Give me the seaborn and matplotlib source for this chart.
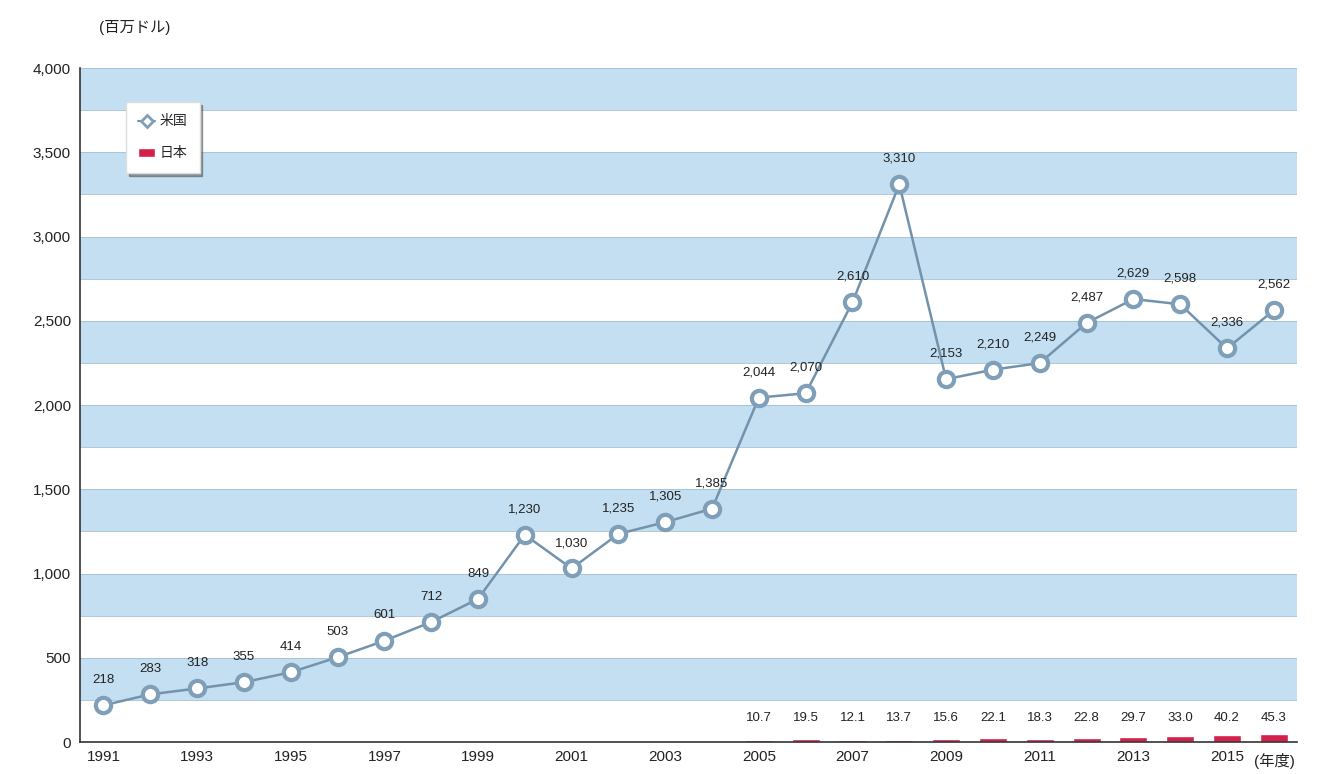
import pandas as pd
import numpy as np
import matplotlib
matplotlib.use("Agg")
import matplotlib.pyplot as plt
import seaborn as sns
from matplotlib.lines import Line2D
from matplotlib.patches import Patch

years = list(range(1991, 2017))
us_values = [218, 283, 318, 355, 414, 503, 601, 712, 849, 1230, 1030, 1235, 1305,
             1385, 2044, 2070, 2610, 3310, 2153, 2210, 2249, 2487, 2629, 2598, 2336, 2562]
jp_years = list(range(2005, 2017))
jp_values = [10.7, 19.5, 12.1, 13.7, 15.6, 22.1, 18.3, 22.8, 29.7, 33.0, 40.2, 45.3]
tick_years = list(range(1991, 2017, 2))

sns.set_style("white")
plt.rcParams['font.family'] = ['Liberation Sans', 'Noto Sans CJK JP', 'DejaVu Sans']

us = pd.DataFrame({"year": years, "value": us_values})
jp = pd.DataFrame({"year": jp_years, "value": jp_values})

fig = plt.figure(figsize=(13.21, 7.74), dpi=100)
ax = fig.add_axes([0.0606, 0.0413, 0.9214, 0.8708])

# striped background
for lo in range(250, 4000, 500):
    ax.axhspan(lo, lo + 250, color="#c3dff1", lw=0, zorder=0)
    ax.axhline(lo, color="#a5bfd2", lw=0.6, zorder=0.5)
    ax.axhline(lo + 250, color="#a5bfd2", lw=0.6, zorder=0.5)

sns.barplot(data=jp, x="year", y="value", native_scale=True, color="#d4204a",
            width=0.6, ax=ax, zorder=2, saturation=1)
sns.lineplot(data=us, x="year", y="value", ax=ax, color="#7392ab", lw=1.8,
             marker="o", markersize=11, markerfacecolor="white",
             markeredgecolor="#7f9fb8", markeredgewidth=3, zorder=3)

for x, v in zip(years, us_values):
    ax.annotate(f"{v:,}", (x, v), xytext=(0, 14), textcoords="offset points",
                ha="center", va="bottom", fontsize=9.5, color="#222222")
for x, v in zip(jp_years, jp_values):
    ax.text(x, 105, f"{v:.1f}", ha="center", va="bottom", fontsize=9.5, color="#222222")

ax.set_xlim(1990.5, 2016.5)
ax.set_ylim(0, 4000)
ax.set_yticks(range(0, 4001, 500))
ax.set_yticklabels([f"{t:,}" for t in range(0, 4001, 500)], fontsize=11, color="#222222")
ax.set_xticks(tick_years)
ax.set_xticklabels([str(y) for y in tick_years], fontsize=11, color="#222222")
ax.set_xticks(np.arange(1991.5, 2016.5, 1), minor=True)
ax.tick_params(axis="x", which="major", length=0, pad=6)
ax.tick_params(axis="x", which="minor", length=4, direction="out", color="#333333")
ax.tick_params(axis="y", length=3, direction="out", color="#333333")
ax.set_xlabel("")
ax.set_ylabel("")

for s in ["top", "right"]:
    ax.spines[s].set_visible(False)
for s in ["left", "bottom"]:
    ax.spines[s].set_color("#333333")
    ax.spines[s].set_linewidth(1.2)

fig.text(0.075, 0.965, "(百万ドル)", fontsize=11, color="#222222", ha="left", va="center")
fig.text(0.98, 0.017, "(年度)", fontsize=11, color="#222222", ha="right", va="center")

handles = [Line2D([0], [0], color="#7392ab", marker="D", markersize=6,
                  markerfacecolor="white", markeredgecolor="#7f9fb8", markeredgewidth=2, lw=1.5),
           Patch(facecolor="#d4204a")]
leg = ax.legend(handles, ["米国", "日本"], loc="upper left", bbox_to_anchor=(0.032, 0.96),
                frameon=True, fontsize=10, handlelength=1.2, labelspacing=1.3,
                borderpad=0.9, handletextpad=0.3, fancybox=False, shadow=True)
leg.get_frame().set_edgecolor("#dddddd")

fig.savefig("out.png", dpi=100)
